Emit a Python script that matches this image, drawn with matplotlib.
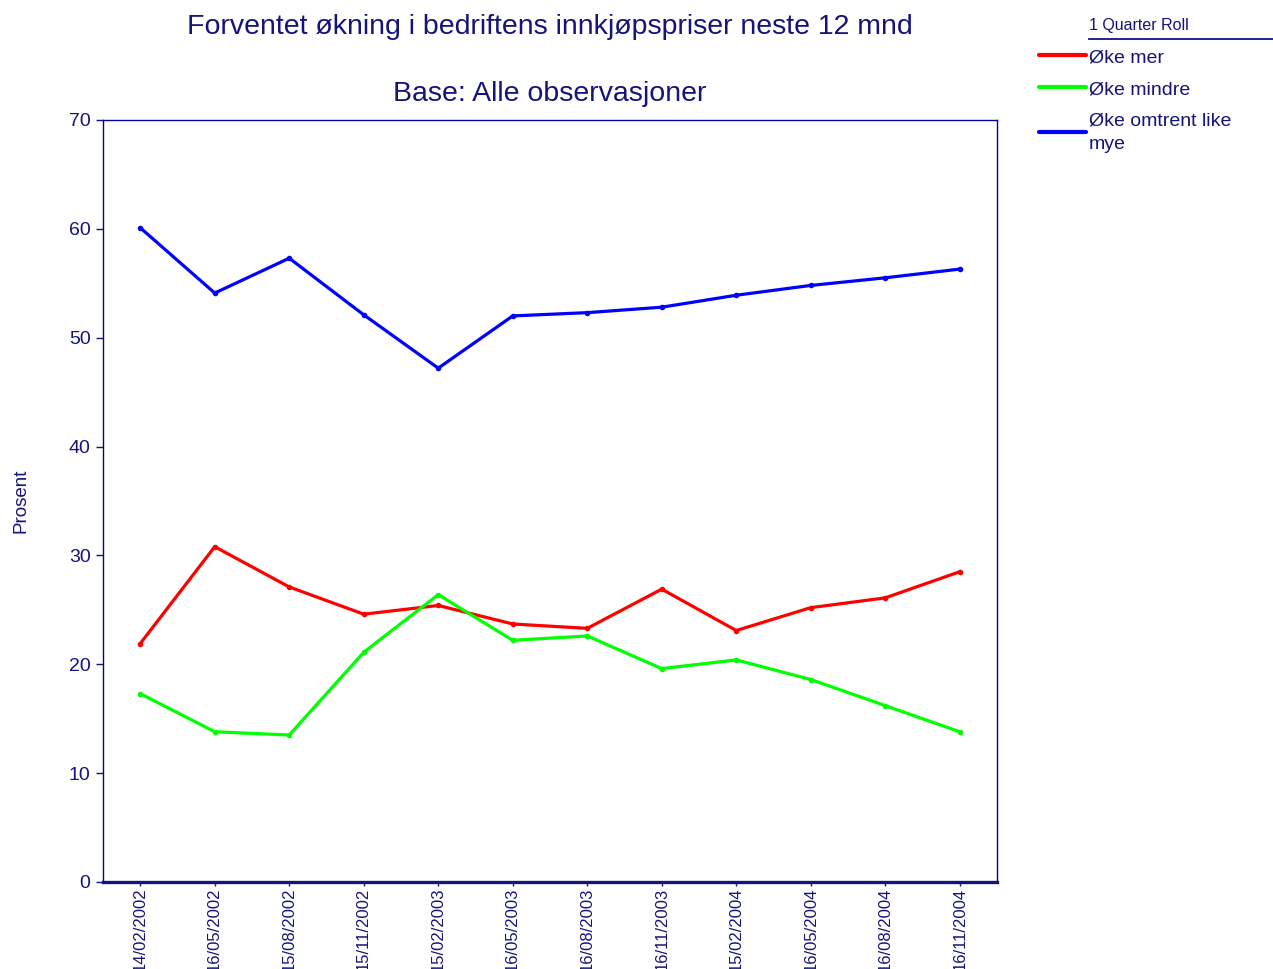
import matplotlib.pyplot as plt
from matplotlib.lines import Line2D

plt.rcParams["font.family"] = ["Liberation Sans", "DejaVu Sans"]

dates = [
    "14/02/2002", "16/05/2002", "15/08/2002", "15/11/2002",
    "15/02/2003", "16/05/2003", "16/08/2003", "16/11/2003",
    "15/02/2004", "16/05/2004", "16/08/2004", "16/11/2004",
]
oke_mer = [21.9, 30.8, 27.1, 24.6, 25.4, 23.7, 23.3, 26.9, 23.1, 25.2, 26.1, 28.5]
oke_mindre = [17.3, 13.8, 13.5, 21.1, 26.4, 22.2, 22.6, 19.6, 20.4, 18.6, 16.2, 13.8]
oke_like = [60.1, 54.1, 57.3, 52.1, 47.2, 52.0, 52.3, 52.8, 53.9, 54.8, 55.5, 56.3]

navy = "#14147a"

fig = plt.figure(figsize=(12.73, 9.69), dpi=100)
ax = fig.add_axes([0.0809, 0.0898, 0.7023, 0.7864])

x = range(len(dates))
series = [
    (oke_mer, "#ff0000", "Øke mer"),
    (oke_mindre, "#00ff00", "Øke mindre"),
    (oke_like, "#0000ff", "Øke omtrent like\nmye"),
]
for vals, col, lab in series:
    ax.plot(x, vals, color=col, lw=2.3, marker="o", ms=3, label=lab,
            solid_capstyle="round")

ax.set_xlim(-0.5, len(dates) - 0.5)
ax.set_ylim(0, 70)
ax.set_yticks(range(0, 71, 10))
ax.set_xticks(list(x))
ax.set_xticklabels(dates, rotation=90, fontsize=12, color=navy)
ax.tick_params(axis="y", labelsize=14, colors=navy, length=5, width=1, pad=4)
ax.tick_params(axis="x", colors=navy, length=3, width=1, pad=1)
for s in ["left", "top", "right"]:
    ax.spines[s].set_color("#0000a0")
    ax.spines[s].set_linewidth(1)
ax.spines["bottom"].set_color(navy)
ax.spines["bottom"].set_linewidth(2.4)

ax.set_ylabel("Prosent", color=navy, fontsize=13.5)
ax.yaxis.set_label_coords(-0.082, 0.5)

fig.text(0.432, 0.972, "Forventet økning i bedriftens innkjøpspriser neste 12 mnd",
         ha="center", va="center", fontsize=20.5, color=navy)
fig.text(0.432, 0.903, "Base: Alle observasjoner",
         ha="center", va="center", fontsize=20.5, color=navy)

# legend
fig.text(0.8555, 0.974, "1 Quarter Roll", ha="left", va="center",
         fontsize=11.5, color=navy)
fig.add_artist(Line2D([0.8555, 1.0], [0.9598, 0.9598], color=navy, lw=1.3))
leg = ax.legend(loc="upper left", bbox_to_anchor=(0.8165, 0.950),
                bbox_transform=fig.transFigure, frameon=False, fontsize=14,
                labelcolor=navy, handlelength=2.4, handletextpad=0.15,
                labelspacing=0.75, borderaxespad=0, borderpad=0)
for h in leg.legend_handles:
    h.set_marker("")
    h.set_linewidth(3)
for t in leg.get_texts():
    t.set_linespacing(1.45)

fig.savefig("out.png", dpi=100)
